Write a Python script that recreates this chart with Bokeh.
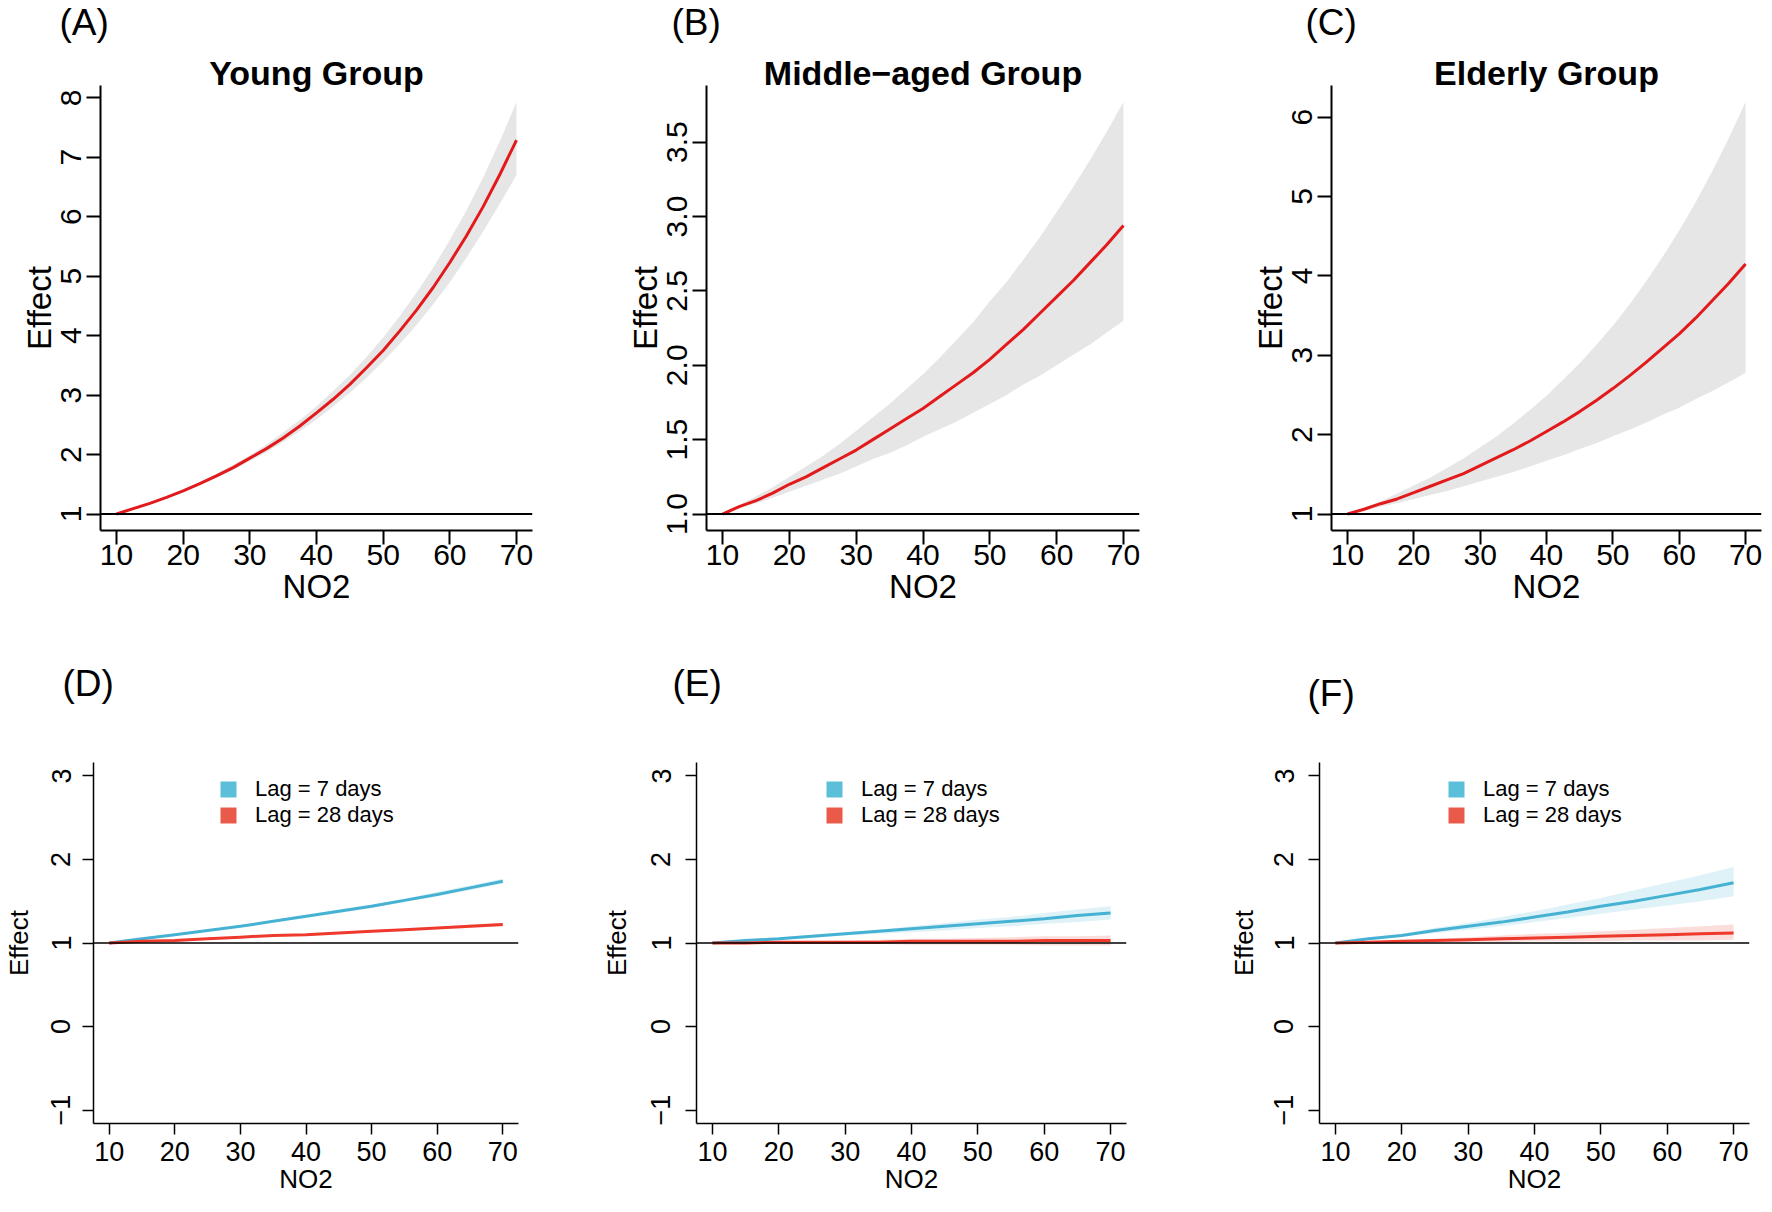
from bokeh.plotting import figure
from bokeh.models import (Label, Span, Legend, LegendItem, Range1d, FixedTicker, Title,
                          PrintfTickFormatter)
from bokeh.layouts import column, row
from bokeh.embed import file_html
from bokeh.resources import INLINE

# ---------------- data ----------------
no2_fine = [10, 12.5, 15, 17.5, 20, 22.5, 25, 27.5, 30, 32.5, 35, 37.5, 40,
            42.5, 45, 47.5, 50, 52.5, 55, 57.5, 60, 62.5, 65, 67.5, 70]
no2 = [10, 15, 20, 25, 30, 35, 40, 45, 50, 55, 60, 65, 70]
x_ticks = [10, 20, 30, 40, 50, 60, 70]

# (A) Young group
young_fit = [1.00, 1.09, 1.18, 1.28, 1.39, 1.51, 1.64, 1.78, 1.94, 2.10, 2.28, 2.48, 2.70,
             2.93, 3.18, 3.46, 3.75, 4.08, 4.43, 4.81, 5.23, 5.68, 6.17, 6.71, 7.29]
young_low = [1.00, 1.08, 1.17, 1.27, 1.37, 1.49, 1.61, 1.74, 1.89, 2.04, 2.21, 2.39, 2.59,
             2.81, 3.04, 3.29, 3.57, 3.86, 4.18, 4.53, 4.90, 5.31, 5.75, 6.22, 6.70]
young_high = [1.00, 1.09, 1.19, 1.30, 1.41, 1.54, 1.68, 1.83, 1.99, 2.17, 2.37, 2.58, 2.81,
              3.07, 3.34, 3.64, 3.97, 4.33, 4.72, 5.14, 5.61, 6.11, 6.66, 7.27, 7.93]
young_yticks = [1, 2, 3, 4, 5, 6, 7, 8]

# (B) Middle-aged group
mid_fit = [1.00, 1.05, 1.09, 1.14, 1.20, 1.25, 1.31, 1.37, 1.43, 1.50, 1.57, 1.64, 1.71,
           1.79, 1.87, 1.95, 2.04, 2.14, 2.24, 2.35, 2.46, 2.57, 2.69, 2.81, 2.94]
mid_low = [1.00, 1.04, 1.07, 1.11, 1.15, 1.19, 1.23, 1.27, 1.32, 1.37, 1.41, 1.46, 1.52,
           1.57, 1.62, 1.68, 1.74, 1.80, 1.87, 1.93, 2.00, 2.07, 2.14, 2.22, 2.30]
mid_high = [1.00, 1.06, 1.12, 1.18, 1.25, 1.32, 1.39, 1.47, 1.56, 1.65, 1.74, 1.84, 1.94,
            2.05, 2.17, 2.29, 2.43, 2.56, 2.71, 2.86, 3.03, 3.20, 3.38, 3.57, 3.77]
mid_yticks = [1.0, 1.5, 2.0, 2.5, 3.0, 3.5]

# (C) Elderly group
eld_fit = [1.00, 1.06, 1.13, 1.19, 1.27, 1.35, 1.43, 1.51, 1.61, 1.71, 1.81, 1.92, 2.04,
           2.16, 2.29, 2.43, 2.58, 2.74, 2.91, 3.09, 3.27, 3.47, 3.69, 3.91, 4.15]
eld_low = [1.00, 1.04, 1.09, 1.14, 1.19, 1.24, 1.29, 1.35, 1.41, 1.47, 1.53, 1.60, 1.67,
           1.74, 1.82, 1.89, 1.98, 2.06, 2.15, 2.25, 2.34, 2.45, 2.55, 2.66, 2.78]
eld_high = [1.00, 1.08, 1.16, 1.26, 1.36, 1.46, 1.58, 1.70, 1.84, 1.98, 2.14, 2.31, 2.49,
            2.69, 2.90, 3.13, 3.37, 3.64, 3.93, 4.24, 4.57, 4.93, 5.32, 5.74, 6.19]
eld_yticks = [1, 2, 3, 4, 5, 6]

# (D) Young, lag 7 / lag 28
d7_fit = [1.00, 1.05, 1.10, 1.15, 1.20, 1.26, 1.32, 1.38, 1.44, 1.51, 1.58, 1.66, 1.74]
d7_low = [1.00, 1.05, 1.09, 1.14, 1.19, 1.25, 1.30, 1.36, 1.42, 1.49, 1.56, 1.63, 1.71]
d7_high = [1.00, 1.05, 1.10, 1.16, 1.21, 1.27, 1.33, 1.40, 1.46, 1.53, 1.61, 1.69, 1.77]
d28_fit = [1.00, 1.02, 1.03, 1.05, 1.07, 1.09, 1.10, 1.12, 1.14, 1.16, 1.18, 1.20, 1.22]
d28_low = [1.00, 1.01, 1.03, 1.04, 1.06, 1.08, 1.09, 1.11, 1.13, 1.15, 1.17, 1.18, 1.20]
d28_high = [1.00, 1.02, 1.04, 1.06, 1.08, 1.10, 1.11, 1.13, 1.15, 1.17, 1.19, 1.22, 1.24]

# (E) Middle-aged, lag 7 / lag 28
e7_fit = [1.00, 1.03, 1.05, 1.08, 1.11, 1.14, 1.17, 1.20, 1.23, 1.26, 1.29, 1.33, 1.36]
e7_low = [1.00, 1.02, 1.04, 1.06, 1.09, 1.11, 1.13, 1.15, 1.18, 1.20, 1.23, 1.25, 1.28]
e7_high = [1.00, 1.03, 1.06, 1.10, 1.13, 1.16, 1.20, 1.24, 1.28, 1.31, 1.36, 1.40, 1.44]
e28_fit = [1.00, 1.00, 1.01, 1.01, 1.01, 1.01, 1.02, 1.02, 1.02, 1.02, 1.03, 1.03, 1.03]
e28_low = [1.00, 1.00, 0.99, 0.99, 0.99, 0.99, 0.98, 0.98, 0.98, 0.98, 0.97, 0.97, 0.97]
e28_high = [1.00, 1.01, 1.02, 1.02, 1.03, 1.04, 1.05, 1.05, 1.06, 1.07, 1.08, 1.08, 1.09]

# (F) Elderly, lag 7 / lag 28
f7_fit = [1.00, 1.05, 1.09, 1.15, 1.20, 1.25, 1.31, 1.37, 1.44, 1.50, 1.57, 1.64, 1.72]
f7_low = [1.00, 1.04, 1.08, 1.12, 1.16, 1.20, 1.25, 1.30, 1.35, 1.40, 1.45, 1.50, 1.56]
f7_high = [1.00, 1.06, 1.11, 1.18, 1.24, 1.31, 1.38, 1.46, 1.54, 1.63, 1.72, 1.81, 1.91]
f28_fit = [1.00, 1.01, 1.02, 1.03, 1.04, 1.05, 1.06, 1.07, 1.08, 1.09, 1.10, 1.11, 1.12]
f28_low = [1.00, 1.00, 1.01, 1.01, 1.01, 1.01, 1.02, 1.02, 1.02, 1.03, 1.03, 1.03, 1.04]
f28_high = [1.00, 1.02, 1.03, 1.05, 1.07, 1.09, 1.11, 1.12, 1.14, 1.16, 1.18, 1.20, 1.22]

lag_yticks = [-1, 0, 1, 2, 3]
legend_labels = ["Lag = 7 days", "Lag = 28 days"]

top_titles = ["Young Group", "Middle\u2212aged Group", "Elderly Group"]
panel_tags = ["(A)", "(B)", "(C)", "(D)", "(E)", "(F)"]
top_ytick_formats = ["%d", "%.1f", "%d"]

# ---------------- styling ----------------
FONT = "Liberation Sans"
BAND_GREY = "#E6E6E6"
RED_LINE = "#E31A1C"
BLUE = "#5BBFD9"
BLUE_LINE = "#45B2D3"
RED2 = "#EA5A4A"
RED2_LINE = "#EE3A2C"

X_RANGE = (7.6, 72.4)


def style_axes(p, tick_out, tick_font, lab_font, lw, x_std, x_lab_std, y_std, y_lab_std):
    for ax in (p.xaxis[0], p.yaxis[0]):
        ax.axis_line_color = "black"
        ax.axis_line_width = lw
        ax.major_tick_line_color = "black"
        ax.major_tick_line_width = lw
        ax.major_tick_out = tick_out
        ax.major_tick_in = 0
        ax.minor_tick_out = 0
        ax.minor_tick_in = 0
        ax.minor_tick_line_color = None
        ax.major_label_text_font = FONT
        ax.major_label_text_font_size = tick_font
        ax.major_label_text_color = "black"
        ax.axis_label_text_font = FONT
        ax.axis_label_text_font_size = lab_font
        ax.axis_label_text_font_style = "normal"
        ax.axis_label_text_color = "black"
    p.xaxis[0].major_label_standoff = x_std
    p.xaxis[0].axis_label_standoff = x_lab_std
    p.yaxis[0].major_label_standoff = y_std
    p.yaxis[0].axis_label_standoff = y_lab_std
    p.yaxis[0].major_label_orientation = "vertical"


def make_fig(w, h, bl, br, bt, bb, yr):
    p = figure(width=w, height=h,
               x_range=Range1d(*X_RANGE), y_range=Range1d(*yr),
               output_backend="svg", toolbar_location=None,
               min_border_left=bl, min_border_right=br,
               min_border_top=bt, min_border_bottom=bb)
    p.grid.visible = False
    p.outline_line_color = None
    p.background_fill_color = "white"
    p.border_fill_color = "white"
    return p


def make_header(w, h):
    p = figure(width=w, height=h, x_range=Range1d(0, w), y_range=Range1d(0, h),
               output_backend="svg", toolbar_location=None,
               x_axis_location=None, y_axis_location=None,
               min_border_left=0, min_border_right=0, min_border_top=0, min_border_bottom=0)
    p.xgrid.visible = False
    p.ygrid.visible = False
    p.outline_line_color = None
    p.background_fill_color = "white"
    p.border_fill_color = "white"
    return p


# ---------------- top row ----------------
TOP_HEAD = 44
TOP_H = 568
TOP_BT = 41
TOP_BB = 82
top_specs = [
    # width, border_left, border_right, tag_dx
    (593, 100, 61, -41),
    (585, 113, 39, -35),
    (586, 153, 3, -26),
]
top_data = [
    (young_fit, young_low, young_high, young_yticks),
    (mid_fit, mid_low, mid_high, mid_yticks),
    (eld_fit, eld_low, eld_high, eld_yticks),
]

top_heads, top_figs = [], []
for i, ((w, bl, br, tdx), (fit, lo, hi, yt)) in enumerate(zip(top_specs, top_data)):
    ymin, ymax = min(lo + [1.0]), max(hi)
    pad = 0.04 * (ymax - ymin)
    p = make_fig(w, TOP_H, bl, br, TOP_BT, TOP_BB, (ymin - pad, ymax + pad))
    p.varea(x=no2_fine, y1=lo, y2=hi, fill_color=BAND_GREY, fill_alpha=1.0)
    p.line(x=no2_fine, y=fit, line_color=RED_LINE, line_width=3)
    p.add_layout(Span(location=1, dimension="width", line_color="black", line_width=2))
    p.xaxis[0].ticker = FixedTicker(ticks=x_ticks)
    p.yaxis[0].ticker = FixedTicker(ticks=yt)
    p.yaxis[0].formatter = PrintfTickFormatter(format=top_ytick_formats[i])
    p.xaxis[0].axis_label = "NO2"
    p.yaxis[0].axis_label = "Effect"
    style_axes(p, 14, "30px", "33px", 2, 0, 0, 5, 1)
    p.add_layout(Title(text=top_titles[i], align="center", vertical_align="bottom",
                       standoff=-13, text_font=FONT, text_font_size="34px",
                       text_font_style="bold", text_color="black"), "above")
    h = make_header(w, TOP_HEAD)
    h.add_layout(Label(x=bl + tdx, y=22, x_units="screen", y_units="screen",
                       text=panel_tags[i], text_font=FONT, text_font_size="37px",
                       text_align="left", text_baseline="middle", text_color="black"))
    top_heads.append(h)
    top_figs.append(p)

# ---------------- bottom row ----------------
BOT_HEAD = 150
BOT_H = 434
BOT_BB = 70
bot_specs = [
    # width, border_left, border_right, tag_dx, tag_dy, y_label_standoff, y_tick_standoff, legend_x
    (593, 90, 75, -28, 79, 15, 12, 125),
    (585, 103, 52, -24, 79, 17, 15, 128),
    (586, 141, 15, -12, 69, 13, 15, 127),
]
bot_data = [
    (d7_fit, d7_low, d7_high, d28_fit, d28_low, d28_high),
    (e7_fit, e7_low, e7_high, e28_fit, e28_low, e28_high),
    (f7_fit, f7_low, f7_high, f28_fit, f28_low, f28_high),
]

bot_heads, bot_figs = [], []
for i, ((w, bl, br, tdx, tdy, yls, yts, lgx), (a, alo, ahi, b, blo, bhi)) in enumerate(zip(bot_specs, bot_data)):
    p = make_fig(w, BOT_H, bl, br, 0, BOT_BB, (-1.16, 3.16))
    p.varea(x=no2, y1=alo, y2=ahi, fill_color=BLUE, fill_alpha=0.2)
    p.varea(x=no2, y1=blo, y2=bhi, fill_color=RED2, fill_alpha=0.2)
    p.line(x=no2, y=a, line_color=BLUE_LINE, line_width=3)
    p.line(x=no2, y=b, line_color=RED2_LINE, line_width=3)
    p.add_layout(Span(location=1, dimension="width", line_color="black", line_width=1.5))
    p.xaxis[0].ticker = FixedTicker(ticks=x_ticks)
    p.yaxis[0].ticker = FixedTicker(ticks=lag_yticks)
    p.yaxis[0].major_label_overrides = {-1: "\u22121"}
    p.xaxis[0].axis_label = "NO2"
    p.yaxis[0].axis_label = "Effect"
    style_axes(p, 11, "27px", "26px", 1.5, 7, 0, yts, yls)
    # legend swatches: zero-height areas on the fitted curves (invisible in the plot)
    s7 = p.varea(x=no2, y1=a, y2=a, fill_color=BLUE, fill_alpha=1.0)
    s28 = p.varea(x=no2, y1=b, y2=b, fill_color=RED2, fill_alpha=1.0)
    fh = BOT_H - BOT_BB
    leg = Legend(items=[LegendItem(label=legend_labels[0], renderers=[s7]),
                        LegendItem(label=legend_labels[1], renderers=[s28])],
                 location=(lgx, fh - 17 - 52))
    leg.glyph_width = 20
    leg.glyph_height = 20
    leg.label_standoff = 17
    leg.spacing = 0
    leg.padding = 0
    leg.margin = 0
    leg.border_line_color = None
    leg.background_fill_alpha = 0
    leg.label_text_font = FONT
    leg.label_text_font_size = "22px"
    leg.label_text_color = "black"
    p.add_layout(leg, "center")
    h = make_header(w, BOT_HEAD)
    h.add_layout(Label(x=bl + tdx, y=tdy, x_units="screen", y_units="screen",
                       text=panel_tags[3 + i], text_font=FONT, text_font_size="37px",
                       text_align="left", text_baseline="middle", text_color="black"))
    bot_heads.append(h)
    bot_figs.append(p)

layout = column(row(*top_heads, spacing=0), row(*top_figs, spacing=0),
                row(*bot_heads, spacing=0), row(*bot_figs, spacing=0), spacing=0)

open("out.html", "w").write(file_html(layout, INLINE))
